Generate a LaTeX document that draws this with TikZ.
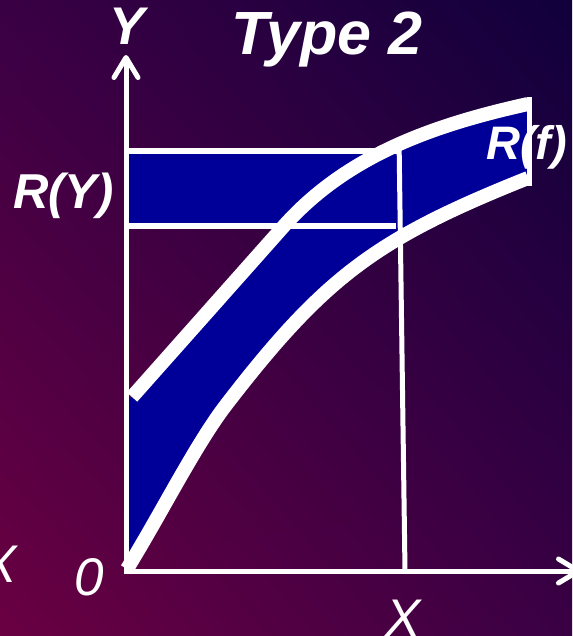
\documentclass[tikz,border=0pt]{standalone}
\usepackage{fontspec}
\setmainfont{Liberation Sans}
\usetikzlibrary{arrows.meta,shadings}
\definecolor{bandblue}{RGB}{0,0,153}
\definecolor{bgmag}{RGB}{106,0,66}
\definecolor{bgmid}{RGB}{58,0,68}
\definecolor{bgnavy}{RGB}{16,0,60}

\begin{document}
\begin{tikzpicture}[x=1pt,y=-1pt,
    axis/.style={white,line width=5pt},
    rim/.style={white,line width=14pt},
    thinrim/.style={white,line width=6pt},
    lbl/.style={white,inner sep=0pt,font=\fontsize{#1}{#1}\selectfont\bfseries\itshape},
    ilbl/.style={white,inner sep=0pt,font=\fontsize{#1}{#1}\selectfont\itshape}]
    \shade[lower left=bgmag, upper left=bgmid, lower right=bgmid, upper right=bgnavy] (0,0) rectangle (572,636);
    \useasboundingbox (0,0) rectangle (572,636);
    \coordinate (O) at (126,571);
    \coordinate (Ytip) at (126,55);
    \coordinate (Xtip) at (581,571);
    \coordinate (RYtop) at (126,151);
    \coordinate (RYbot) at (126,226);
    \coordinate (Xtop) at (399,138);
    \coordinate (Xbot) at (405,571);
    \coordinate (U0) at (132,397);
    \coordinate (U1) at (283,227);
    \coordinate (U2) at (528,104);
    \coordinate (L0) at (127,569);
    \coordinate (L1) at (226,405);
    \coordinate (L2) at (528,178);
    % band R(f)
    \fill[bandblue] (126,400) -- (U0) -- (U1) .. controls (348,153.5) and (438,124) .. (U2)
        -- (L2) .. controls (378,238) and (326,275) .. (L1) .. controls (196,444) and (162,512) .. (L0) -- cycle;
    % interval R(Y)
    \fill[bandblue] (RYtop) rectangle (399,226);
    \draw[thinrim] (RYtop) -- (399,151);
    \draw[thinrim] (RYbot) -- (396,226);
    \draw[axis] (Xtop) -- (Xbot);
    \draw[rim] (U0) -- (U1) .. controls (348,153.5) and (438,124) .. (U2);
    \draw[rim] (L0) .. controls (162,512) and (196,444) .. (L1) .. controls (326,275) and (378,238) .. (L2);
    \draw[axis] (529,97) -- (529,186);
    % axes
    \draw[axis,-{Straight Barb[length=20pt,width=24pt,round]}] (126,573) -- (Ytip);
    \draw[axis,-{Straight Barb[length=20pt,width=24pt,round]}] (124,571) -- (Xtip);
    \node[lbl=61,anchor=base] (title) at (327,55) {Type 2};
    \node[lbl=53,anchor=base] (ylab) at (127,45) {Y};
    \node[lbl=49,anchor=base west] (rylab) at (13,208) {R(Y)};
    \node[lbl=47,anchor=base west] (rflab) at (486,160) {R(f)};
    \node[ilbl=53,anchor=base] (zero) at (89,595) {0};
    \node[ilbl=53,anchor=base] (xlab) at (403,636) {X};
    \node[ilbl=53,anchor=base east] (xleft) at (17,582) {X};
\end{tikzpicture}
\end{document}
